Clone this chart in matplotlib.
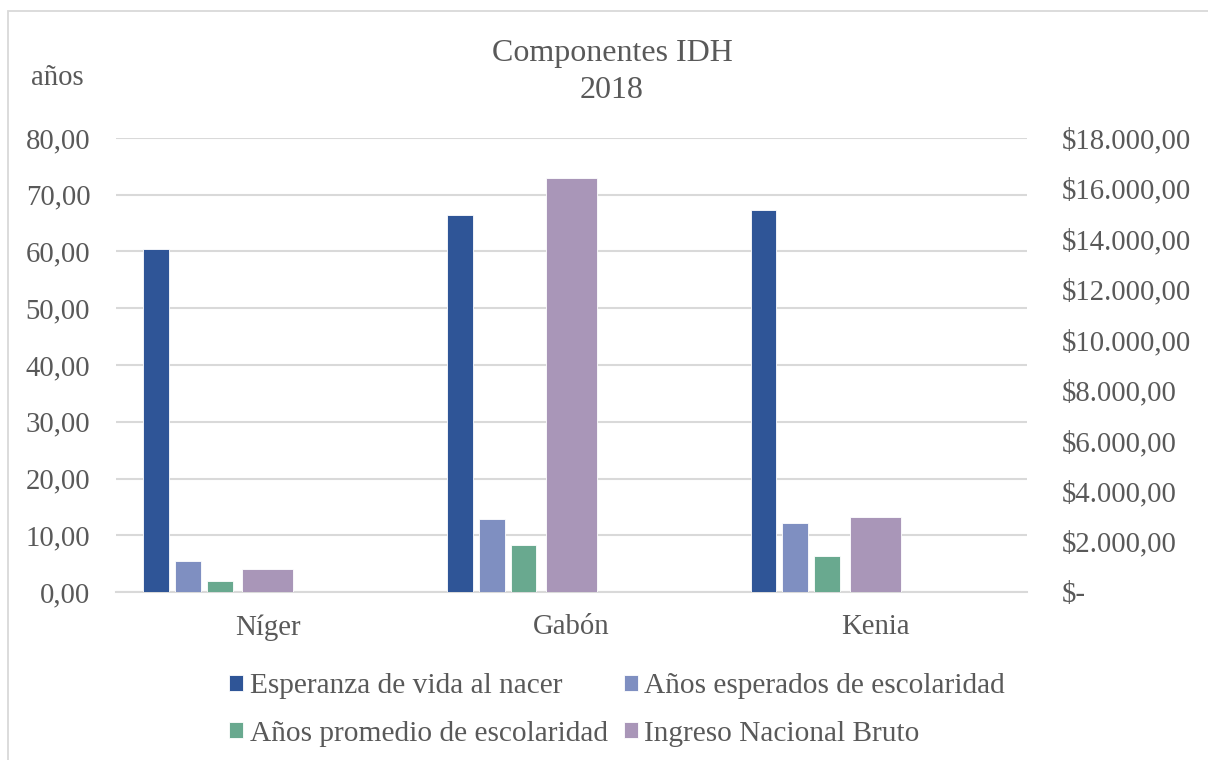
import matplotlib.pyplot as plt
from matplotlib.patches import Rectangle
from matplotlib.ticker import FuncFormatter, MultipleLocator
import numpy as np

plt.rcParams['font.family'] = ['Liberation Serif', 'DejaVu Serif']

# datos IDH 2018
paises = ["Níger", "Gabón", "Kenia"]
esperanza_vida = [60.4, 66.4, 67.3]
anos_esperados = [5.4, 12.8, 12.1]
anos_promedio = [2.0, 8.2, 6.4]
ingreso_bruto = [912, 16431, 2960]

series_nombres = ["Esperanza de vida al nacer", "Años esperados de escolaridad",
                  "Años promedio de escolaridad", "Ingreso Nacional Bruto"]
colores = ["#2F5597", "#7F8FC1", "#69A98F", "#A996B8"]
gris_texto = "#595959"
gris_linea = "#D9D9D9"

fig = plt.figure(figsize=(12.08, 7.60), dpi=100)
ax = fig.add_axes([116 / 1208, 1 - 592 / 760, (1027 - 116) / 1208, (592 - 138) / 760])
ax2 = ax.twinx()

x = np.arange(len(paises))
ancho = 0.085
desplaz = [-0.368, -0.263, -0.158]
for vals, d, c, n in zip([esperanza_vida, anos_esperados, anos_promedio], desplaz, colores, series_nombres):
    ax.bar(x + d, vals, ancho, color=c, edgecolor="white", linewidth=0.6, label=n, zorder=3)
ax2.bar(x, ingreso_bruto, 0.167, color=colores[3], edgecolor="white", linewidth=0.6,
        label=series_nombres[3], zorder=3)

ax.set_xlim(-0.5, 2.5)
ax.set_ylim(0, 80)
ax2.set_ylim(0, 18000)
ax.yaxis.set_major_locator(MultipleLocator(10))
ax2.yaxis.set_major_locator(MultipleLocator(2000))

ax.yaxis.set_major_formatter(FuncFormatter(lambda v, p: f"{v:.2f}".replace(".", ",")))


def dolares(v, p):
    if v == 0:
        return "$-"
    s = f"{v:,.2f}"
    s = s.replace(",", "X").replace(".", ",").replace("X", ".")
    return "$" + s


ax2.yaxis.set_major_formatter(FuncFormatter(dolares))

ax.set_xticks(x)
ax.set_xticklabels(paises)
ax.grid(axis="y", color=gris_linea, linewidth=1.5, zorder=0)
ax.set_axisbelow(True)
for a in (ax, ax2):
    for s in a.spines.values():
        s.set_visible(False)
ax.spines["bottom"].set_visible(True)
ax.spines["bottom"].set_color(gris_linea)
ax.spines["bottom"].set_linewidth(1.5)

fs = 20.7
fs_titulo = 23
ax.tick_params(axis="x", length=0, pad=16, labelsize=fs, labelcolor=gris_texto)
ax.tick_params(axis="y", length=0, pad=18.5, labelsize=fs, labelcolor=gris_texto)
ax2.tick_params(axis="y", length=0, pad=25, labelsize=fs, labelcolor=gris_texto)

fig.text(612 / 1208, 1 - 54 / 760, "Componentes IDH", ha="center", va="center",
         fontsize=fs_titulo, color=gris_texto)
fig.text(612 / 1208, 1 - 90 / 760, "2018", ha="center", va="center",
         fontsize=fs_titulo, color=gris_texto)
fig.text(31 / 1208, 1 - 78 / 760, "años", ha="left", va="center",
         fontsize=fs, color=gris_texto)

# leyenda por filas: el orden por columnas se intercambia
h1, l1 = ax.get_legend_handles_labels()
h2, l2 = ax2.get_legend_handles_labels()
hs = h1 + h2
ls = l1 + l2
orden = [0, 2, 1, 3]
fig.legend([hs[i] for i in orden], [ls[i] for i in orden], ncol=2, loc="center",
           bbox_to_anchor=(617 / 1208, 1 - 710 / 760),
           frameon=False, fontsize=21.2, labelcolor=gris_texto, handlelength=0.48,
           handleheight=0.48, handletextpad=0.21, columnspacing=0.55, labelspacing=0.72,
           borderpad=0)

# marco del gráfico
fig.patches.append(Rectangle((8 / 1208, -0.1), 1.2, 1 - 11 / 760 + 0.1,
                             transform=fig.transFigure, fill=False,
                             edgecolor=gris_linea, linewidth=1.3))

fig.savefig("out.png", dpi=100)
